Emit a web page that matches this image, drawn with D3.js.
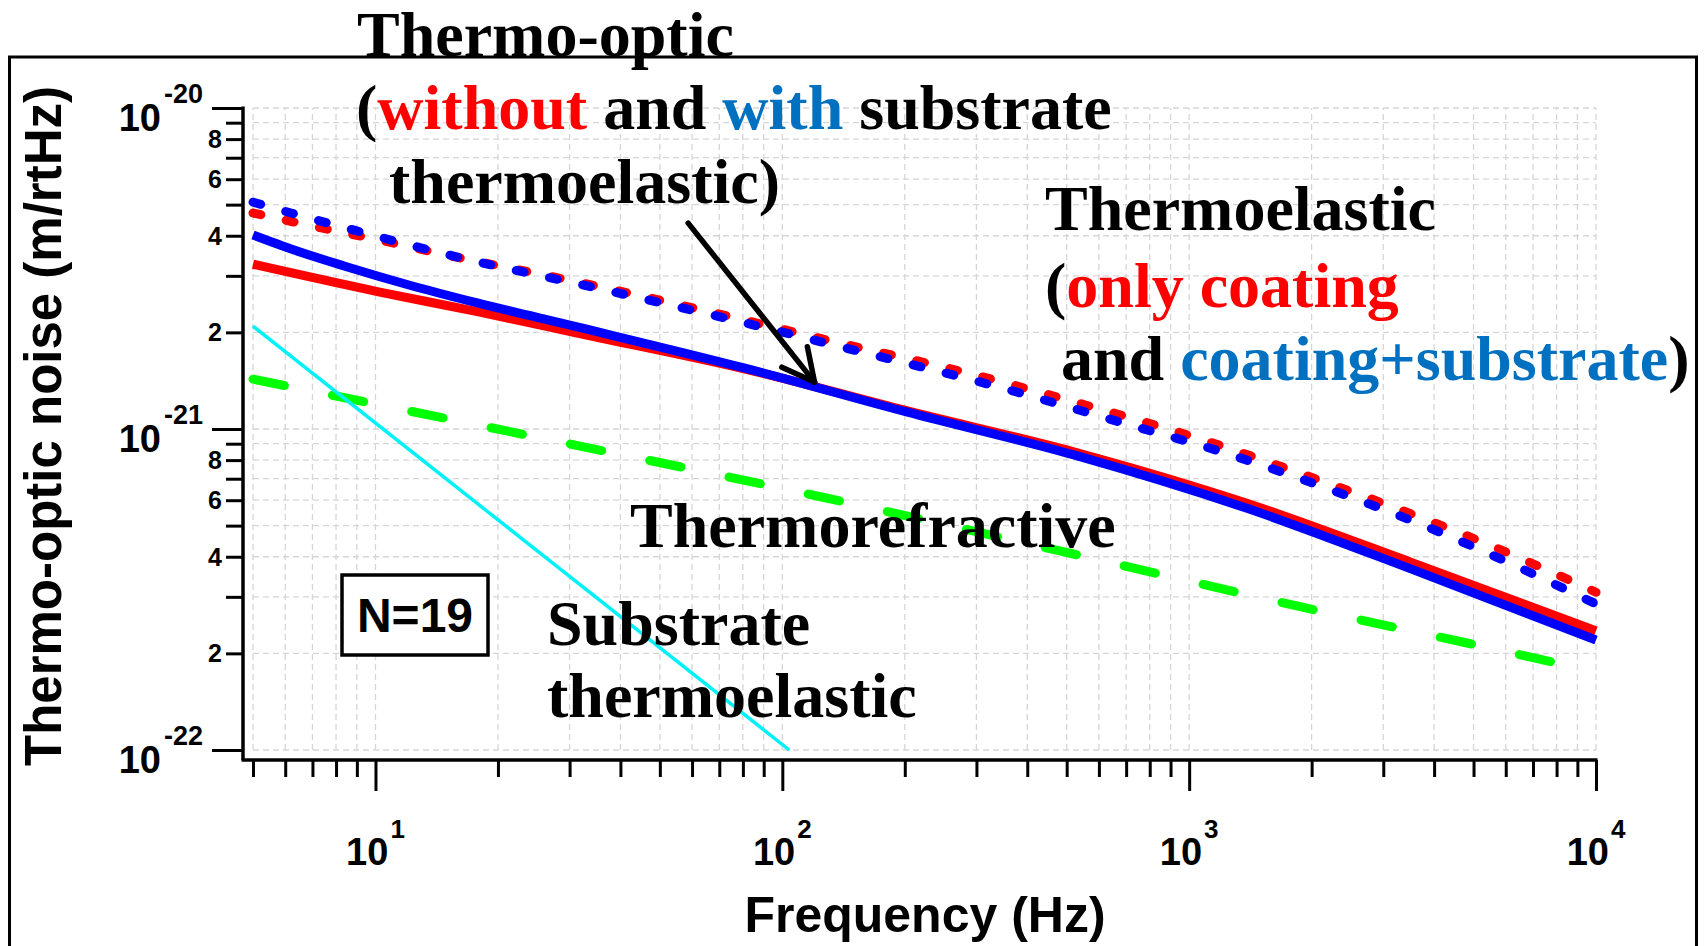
<!DOCTYPE html>
<html>
<head>
<meta charset="utf-8">
<script src="https://cdn.jsdelivr.net/npm/d3@7"></script>
<style>
  body { margin: 0; background: #fff; }
  svg { display: block; }
</style>
</head>
<body>
<div id="chart"></div>
<script>
// Values: frequency in Hz, noise in m/rtHz

// Thermoelastic, only coating (red solid)
const teCoatingFreq  = [5, 10.1, 17.8, 31.3, 80.5, 202, 539, 1387, 3559, 10000];
const teCoatingNoise = [3.26e-21, 2.68e-21, 2.32e-21, 1.99e-21, 1.54e-21, 1.14e-21, 8.39e-22, 5.87e-22, 3.82e-22, 2.35e-22];

// Thermoelastic, coating + substrate (blue solid)
const teTotalFreq  = [5, 6.31, 8.37, 12.2, 17.8, 31.3, 80.5, 202, 539, 1387, 3559, 10000];
const teTotalNoise = [4.02e-21, 3.61e-21, 3.22e-21, 2.80e-21, 2.47e-21, 2.08e-21, 1.55e-21, 1.13e-21, 8.2e-22, 5.66e-22, 3.64e-22, 2.20e-22];

// Thermo-optic without substrate thermoelastic (red dotted)
const toNoSubFreq  = [5, 7.36, 10.5, 15.0, 31.4, 65.2, 134, 276, 553, 1143, 1924, 3258, 5544, 10000];
const toNoSubNoise = [4.71e-21, 4.23e-21, 3.85e-21, 3.48e-21, 2.87e-21, 2.33e-21, 1.87e-21, 1.51e-21, 1.19e-21, 9.04e-22, 7.19e-22, 5.64e-22, 4.32e-22, 3.10e-22];

// Thermo-optic with substrate thermoelastic (blue dotted)
const toSubFreq  = [5, 6.2, 9.0, 15.8, 34, 72, 153, 327, 695, 1225, 2178, 3838, 6761, 10000];
const toSubNoise = [5.09e-21, 4.71e-21, 4.14e-21, 3.44e-21, 2.77e-21, 2.22e-21, 1.75e-21, 1.37e-21, 1.04e-21, 8.42e-22, 6.54e-22, 4.96e-22, 3.61e-22, 2.85e-22];

// Thermorefractive (green dashed)
const trFreq  = [5, 21, 125, 481, 1841, 7000, 10000];
const trNoise = [1.43e-21, 9.86e-22, 6.14e-22, 4.17e-22, 2.81e-22, 1.94e-22, 1.75e-22];

// Substrate thermoelastic (cyan)
const subFreq  = [5, 104];
const subNoise = [2.09e-21, 1.0e-22];

// Axis ticks
const xMajorTicks = [1e1, 1e2, 1e3, 1e4];
const xMajorExp   = ["1", "2", "3", "4"];
const yMajorTicks = [1e-20, 1e-21, 1e-22];
const yMajorExp   = ["-20", "-21", "-22"];
const yMinorLabelled = [2, 4, 6, 8];

// Arrow pointing at the thermo-optic curves (data coordinates)
const arrowFrom = [58.7, 4.38e-21];
const arrowTo   = [120, 1.40e-21];

const W = 1704, H = 946;
const svg = d3.select("#chart").append("svg")
    .attr("width", W).attr("height", H)
    .style("background", "#fff");

const x = d3.scaleLog().domain([5, 1e4]).range([253, 1596]);
const y = d3.scaleLog().domain([1e-22, 1e-20]).range([750, 108]);
const xAxisY = 760, yAxisX = 243;

// minor tick values
const xAll = [], yAll = [];
[1, 10, 100, 1000].forEach(d => { for (let k = 1; k <= 9; k++) if (d * k >= 5) xAll.push(d * k); });
xAll.push(1e4);
[1e-22, 1e-21].forEach(d => { for (let k = 1; k <= 9; k++) yAll.push(d * k); });
yAll.push(1e-20);
const xMinor = xAll.filter(v => !xMajorTicks.includes(v));
const yMinor = yAll.filter(v => !yMajorTicks.some(t => Math.abs(t - v) / t < 1e-6));

// outer frame
svg.append("rect")
    .attr("x", 9.5).attr("y", 57).attr("width", 1687).attr("height", 920)
    .attr("fill", "none").attr("stroke", "#000").attr("stroke-width", 3);

// grid
const grid = svg.append("g")
    .attr("stroke", "#d6d6d6").attr("stroke-width", 1.3).attr("stroke-dasharray", "6,4");
grid.selectAll("line.v").data(xAll).join("line")
    .attr("x1", d => x(d)).attr("x2", d => x(d))
    .attr("y1", y(1e-22)).attr("y2", y(1e-20));
grid.selectAll("line.h").data(yAll).join("line")
    .attr("x1", x(5)).attr("x2", x(1e4))
    .attr("y1", d => y(d)).attr("y2", d => y(d));

// axes
function cleanAxis(g) {
    g.select(".domain").remove();
    g.selectAll(".tick line").attr("stroke", "#000").attr("stroke-width", 3);
    g.selectAll(".tick text").remove();
}
svg.append("g").attr("transform", `translate(0,${xAxisY})`)
    .call(d3.axisBottom(x).tickValues(xMinor).tickSize(17).tickFormat(""))
    .call(cleanAxis);
svg.append("g").attr("transform", `translate(0,${xAxisY})`)
    .call(d3.axisBottom(x).tickValues(xMajorTicks).tickSize(31).tickFormat(""))
    .call(cleanAxis);
svg.append("g").attr("transform", `translate(${yAxisX},0)`)
    .call(d3.axisLeft(y).tickValues(yMinor).tickSize(17).tickFormat(""))
    .call(cleanAxis);
svg.append("g").attr("transform", `translate(${yAxisX},0)`)
    .call(d3.axisLeft(y).tickValues(yMajorTicks).tickSize(31).tickFormat(""))
    .call(cleanAxis);

svg.append("line")
    .attr("x1", yAxisX - 1.5).attr("x2", x(1e4) + 1.5)
    .attr("y1", xAxisY).attr("y2", xAxisY)
    .attr("stroke", "#000").attr("stroke-width", 3.5);
svg.append("line")
    .attr("x1", yAxisX).attr("x2", yAxisX)
    .attr("y1", y(1e-20) - 1.5).attr("y2", xAxisY)
    .attr("stroke", "#000").attr("stroke-width", 3.5);

// tick labels
const sans = "'Liberation Sans', Arial, sans-serif";
const serif = "'Liberation Serif', 'Times New Roman', serif";

xMajorTicks.forEach((v, i) => {
    const t = svg.append("text")
        .attr("x", x(v)).attr("y", 865)
        .attr("text-anchor", "middle")
        .attr("font-family", sans).attr("font-weight", "bold");
    t.append("tspan").attr("font-size", 38).text("10");
    t.append("tspan").attr("font-size", 26).attr("dx", 2).attr("dy", -27).text(xMajorExp[i]);
});

yMajorTicks.forEach((v, i) => {
    svg.append("text")
        .attr("x", 161).attr("y", y(v) + 23)
        .attr("text-anchor", "end")
        .attr("font-family", sans).attr("font-weight", "bold").attr("font-size", 38)
        .text("10");
    svg.append("text")
        .attr("x", 164).attr("y", y(v) - 5)
        .attr("font-family", sans).attr("font-weight", "bold").attr("font-size", 27)
        .text(yMajorExp[i]);
});

[1e-22, 1e-21].forEach(dec => {
    yMinorLabelled.forEach(k => {
        svg.append("text")
            .attr("x", 222).attr("y", y(dec * k) + 9)
            .attr("text-anchor", "end")
            .attr("font-family", sans).attr("font-weight", "bold").attr("font-size", 25)
            .text(k);
    });
});

// axis titles
svg.append("text")
    .attr("x", 925).attr("y", 932)
    .attr("text-anchor", "middle")
    .attr("font-family", sans).attr("font-weight", "bold").attr("font-size", 50)
    .text("Frequency (Hz)");
svg.append("text")
    .attr("transform", "translate(61,426) rotate(-90)")
    .attr("text-anchor", "middle")
    .attr("font-family", sans).attr("font-weight", "bold").attr("font-size", 51)
    .text("Thermo-optic noise (m/rtHz)");

// curves
const line = d3.line()
    .x(d => x(d[0])).y(d => y(d[1]))
    .curve(d3.curveMonotoneX);
const zip = (f, n) => f.map((v, i) => [v, n[i]]);

const series = [
    { data: zip(trFreq, trNoise), color: "#00ff00", width: 9, dash: "32,49" },
    { data: zip(toNoSubFreq, toNoSubNoise), color: "#ff0000", width: 9, dash: "8,26" },
    { data: zip(toSubFreq, toSubNoise), color: "#0000ff", width: 9, dash: "8,26" },
    { data: zip(teCoatingFreq, teCoatingNoise), color: "#ff0000", width: 9, dash: null },
    { data: zip(teTotalFreq, teTotalNoise), color: "#0000ff", width: 9, dash: null },
    { data: zip(subFreq, subNoise), color: "#00f2f8", width: 3.5, dash: null }
];
series.forEach(s => {
    svg.append("path")
        .attr("d", line(s.data))
        .attr("fill", "none")
        .attr("stroke", s.color)
        .attr("stroke-width", s.width)
        .attr("stroke-linecap", s.dash ? "round" : "butt")
        .attr("stroke-linejoin", "round")
        .attr("stroke-dasharray", s.dash);
});

// N=19 box
svg.append("rect")
    .attr("x", 342).attr("y", 575).attr("width", 146).attr("height", 80)
    .attr("fill", "#fff").attr("stroke", "#000").attr("stroke-width", 3.5);
svg.append("text")
    .attr("x", 415).attr("y", 632)
    .attr("text-anchor", "middle")
    .attr("font-family", sans).attr("font-weight", "bold").attr("font-size", 48)
    .text("N=19");

// arrow
const ax0 = x(arrowFrom[0]), ay0 = y(arrowFrom[1]);
const ax1 = x(arrowTo[0]), ay1 = y(arrowTo[1]);
const ang = Math.atan2(ay1 - ay0, ax1 - ax0);
const headLen = 36, headAng = 27 * Math.PI / 180;
const arrow = svg.append("g").attr("stroke", "#000").attr("stroke-width", 5.5)
    .attr("fill", "none").attr("stroke-linecap", "round");
arrow.append("line").attr("x1", ax0).attr("y1", ay0).attr("x2", ax1).attr("y2", ay1);
[-1, 1].forEach(sgn => {
    arrow.append("line")
        .attr("x1", ax1).attr("y1", ay1)
        .attr("x2", ax1 - headLen * Math.cos(ang + sgn * headAng))
        .attr("y2", ay1 - headLen * Math.sin(ang + sgn * headAng));
});

// annotations
const red = "#ff0000", blue = "#0070c0";
function label(xp, yp, parts) {
    const t = svg.append("text")
        .attr("x", xp).attr("y", yp)
        .attr("font-family", serif).attr("font-weight", "bold").attr("font-size", 64)
        .attr("xml:space", "preserve");
    parts.forEach(p => t.append("tspan").attr("fill", p[1] || "#000").text(p[0]));
}
label(357, 56, [["Thermo-optic"]]);
label(356, 129, [["("], ["without", red], [" and "], ["with", blue], [" substrate"]]);
label(389, 203, [["thermoelastic)"]]);
label(1045, 230, [["Thermoelastic"]]);
label(1045, 307, [["("], ["only coating", red]]);
label(1061, 380, [["and "], ["coating+substrate", blue], [")"]]);
label(630, 547, [["Thermorefractive"]]);
label(547, 645, [["Substrate"]]);
label(547, 717, [["thermoelastic"]]);
</script>
</body>
</html>
